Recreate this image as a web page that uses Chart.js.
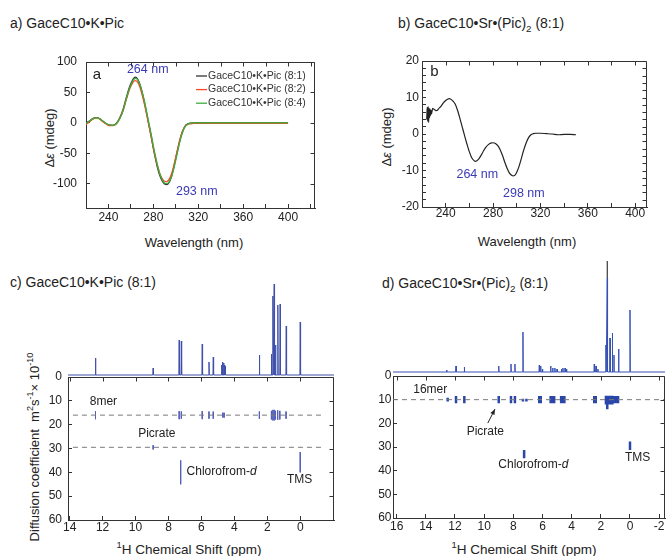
<!DOCTYPE html>
<html>
<head>
<meta charset="utf-8">
<script src="https://cdn.jsdelivr.net/npm/chart.js@4.4.0/dist/chart.umd.min.js"></script>
<style>
body { margin: 0; background: #fff; font-family: Arial, "Liberation Sans", sans-serif; color: #222; }
#wrap { position: relative; width: 666px; height: 556px; overflow: hidden; background: #fff; }
canvas { position: absolute; }
.t { position: absolute; white-space: nowrap; font-size: 14px; line-height: 16px; }
.ax { position: absolute; white-space: nowrap; font-size: 13px; line-height: 15px; transform: translate(-50%, -50%); }
.rot { transform: translate(-50%, -50%) rotate(-90deg); }
sup, sub { font-size: 70%; line-height: 0; }
</style>
</head>
<body>
<div id="wrap">
  <div class="t" style="left:10px;top:15px">a) GaceC10•K•Pic</div>
  <div class="t" style="left:398px;top:15px">b) GaceC10•Sr•(Pic)<sub>2</sub> (8:1)</div>
  <div class="t" style="left:10px;top:274px">c) GaceC10•K•Pic (8:1)</div>
  <div class="t" style="left:382px;top:275px">d) GaceC10•Sr•(Pic)<sub>2</sub> (8:1)</div>

  <div class="ax rot" style="left:49px;top:138px">Δ<i>ε</i> (mdeg)</div>
  <div class="ax" style="left:194px;top:242px">Wavelength (nm)</div>
  <div class="ax rot" style="left:386px;top:137px">Δ<i>ε</i> (mdeg)</div>
  <div class="ax" style="left:527px;top:241px">Wavelength (nm)</div>
  <div class="ax rot" style="left:34px;top:447px">Diffusion coefficient &nbsp;m<sup>2</sup>s<sup>-1</sup>× 10<sup>-10</sup></div>
  <div class="ax" style="left:189px;top:549px;font-size:13.5px"><sup>1</sup>H Chemical Shift (ppm)</div>
  <div class="ax" style="left:524px;top:549px;font-size:13.5px"><sup>1</sup>H Chemical Shift (ppm)</div>
</div>
<script>
// ---- panel a: CD spectra, GaceC10-K-Pic
var wlA = [220,223,226,229,232,235,238,241,244,247,250,253,256,259,262,264,266,268,270,272,
           274,276,278,280,282,284,286,288,290,292,294,296,298,300,302,304,306,308,310,313,
           316,320,330,340,360,380,400];
var cdA81 = [0,3,7,8.7,7,2.5,-1.5,-4,-4.2,-1,8,22,42,60,72,75,72,63,50,34,
             16,-3,-22,-42,-60,-76,-88,-96,-100.5,-101.6,-98,-89,-75,-58,-41,-26,-14,-6,-2.5,-0.5,
             0,0,0,0,0,0,0];
var cdA82 = [-2.5,1.5,6,8,6.5,2,-2,-4.5,-4.5,-1.5,7,20,39,56,67,69.5,67,59,46,31,
             14,-4,-22,-41,-58,-73,-85,-92,-96,-96.5,-93,-85,-72,-56,-40,-25,-14,-6.5,-3,-1.5,
             -1,-1,-1,-1,-1,-1,-1];
var cdA84 = [-1,2.5,6.5,8.5,7,3,-1,-3.5,-4,-1.5,6.5,20,40,58,70,73,71,63,51,36,
             18,0,-18,-38,-56,-72,-85,-94,-99,-100,-97,-90,-77,-61,-44,-28,-16,-7,-3,-0.5,
             0,0,0,0,0,0,0];
var namesA = ['GaceC10•K•Pic (8:1)', 'GaceC10•K•Pic (8:2)', 'GaceC10•K•Pic (8:4)'];
var xTicksA = [240,260,280,300,320,340,360,380,400,420];
var xLabelsA = [240,280,320,360,400];
var yTicksA = [-100,-50,0,50,100];

// ---- panel b: CD spectrum, GaceC10-Sr-(Pic)2
var wlB = [224,224.4,224.8,225.2,225.6,226,226.4,226.8,227.2,227.6,228,229,230,231,232,233,234,
           236,238,240,242,243,244,246,248,250,252,254,256,258,260,262,264,265,266,268,270,
           272,274,276,278,280,282,284,286,288,290,292,294,296,297,298,299,300,302,304,306,
           308,310,312,314,316,318,320,325,330,335,340,345,350];
var cdB = [4,7.3,3.5,7.5,3.2,7,4.5,6.8,5,6.5,5.5,7.0,6.8,6.6,6.4,6.5,6.9,
           7.6,8.5,9.2,9.6,9.7,9.6,9.1,8.2,6.5,4.3,1.9,-0.5,-2.8,-4.9,-6.5,-7.3,-7.5,-7.4,-6.8,-5.8,
           -4.6,-3.6,-2.9,-2.5,-2.4,-2.6,-3.2,-4.3,-5.9,-7.8,-9.5,-10.8,-11.4,-11.5,-11.4,-11.1,-10.5,-8.8,-6.6,-4.3,
           -2.4,-1.0,-0.2,0.1,0.2,0.2,0.2,0.1,0.0,-0.2,-0.1,-0.1,-0.2];
var xTicksB = [240,260,280,300,320,340,360,380,400];
var xLabelsB = [240,280,320,360,400];
var yTicksB = [-20,-18,-16,-14,-12,-10,-8,-6,-4,-2,0,2,4,6,8,10,12,14,16,18,20];
var yLabelsB = [-20,-10,0,10,20];

// ---- panel c: 1H spectrum + DOSY, K picrate
var specC_ppm = [12.43,8.93,7.35,7.22,5.95,5.54,5.28,4.77,4.71,4.65,4.60,4.56,2.48,1.75,1.66,1.58,1.50,1.36,1.22,0.85,0.0];
var specC_int = [17,7,35,34,31,13,18,10,13,12,10,9,20,21,79,91,30,70,71,49,53];
var crossC_ppm = [12.43,7.35,7.22,5.95,5.54,5.28,4.70,4.62,2.48,1.75,1.66,1.58,1.50,1.37,1.24,0.86, 8.93, 7.26, 0.0];
var crossC_lo  = [14.3,14.3,14.5,14.3,14.5,14.5,15.0,15.0,14.5,14.2,13.8,13.8,14.2,14.0,14.2,14.5, 28.6, 35.0, 31.5];
var crossC_hi  = [17.7,17.7,17.5,17.7,17.5,17.5,17.0,17.0,17.5,17.8,18.2,18.2,17.8,18.0,17.8,17.5, 30.4, 45.0, 40.0];
var levelsC = [16, 29.5];           // 8mer, picrate
var xTicksC = [14,12,10,8,6,4,2,0];
var dTicks = [0,10,20,30,40,50,60];

// ---- panel d: 1H spectrum + DOSY, Sr picrate
var specD_ppm = [12.57,11.93,11.36,9.0,8.16,7.89,7.34,6.22,6.12,6.0,5.44,5.3,5.15,5.0,4.7,4.6,4.45,4.35,2.45,2.33,2.2,1.65,1.56,1.37,1.21,1.1,0.78,0.0];
var specD_int = [2,6,5,6,8,8,40,7,6,3,6,4,4,3,3,4,4,3,8,6,3,27,94,34,39,17,23,62];
var specD_top = [1.56, 94, 111];    // clipped top of the 1.56 ppm line
var crossD_ppm = [12.5,11.93,11.36,9.0,8.16,7.89,7.34,7.1,6.22,6.12,5.44,5.32,5.2,4.72,4.6,4.5,2.45,2.35,1.65,1.56,1.47,1.37,1.28,1.21,1.1,0.95,0.82, 7.26, 0.0];
var crossD_lo  = [9.2,8.5,8.5,8.5,8.5,8.5,9.6,9.6,8.5,8.5,8.5,8.5,8.5,8.5,8.5,8.5,8.5,8.5,8.3,8.3,8.3,8.3,8.3,8.3,8.5,8.5,8.5, 31.3, 27.7];
var crossD_hi  = [10.8,11.5,11.5,11.5,11.5,11.5,10.8,10.8,11.5,11.5,11.5,11.5,11.5,11.5,11.5,11.5,11.5,11.5,12,14,12,12,12,12,11.5,11.5,11.5, 34.8, 31.3];
var levelsD = [10];                 // 16mer
var xTicksD = [16,14,12,10,8,6,4,2,0,-2];

var FONT = 'Arial, "Liberation Sans", sans-serif';
var INK = '#222';

function axis(pos, min, max, rev, ticks, labels, pad, size) {
  var horiz = (pos === 'top' || pos === 'bottom');
  return {
    type: 'linear', position: pos, min: min, max: max, reverse: !!rev,
    afterBuildTicks: function (s) { s.ticks = ticks.map(function (v) { return { value: v }; }); },
    afterFit: function (s) {
      if (horiz) s.height = size; else s.width = size;
      // no extra room for overhanging labels, the box is placed by hand
      s.paddingTop = s.paddingBottom = s.paddingLeft = s.paddingRight = 0;
    },
    grid: { display: true, drawOnChartArea: false, drawTicks: true, tickLength: -4, color: '#333' },
    border: { display: true, color: '#333', width: 1 },
    ticks: {
      display: true, padding: pad, color: INK, autoSkip: false, maxRotation: 0,
      font: { family: FONT, size: 12 },
      callback: function (v) { return labels.indexOf(v) >= 0 ? String(v) : ''; }
    }
  };
}

// top and right sides of the box, with inward ticks from the same scales
var frame = {
  id: 'frame',
  afterDraw: function (chart) {
    var ctx = chart.ctx, a = chart.chartArea, sx = chart.scales.x, sy = chart.scales.y;
    var top = Math.round(a.top) + 0.5, right = Math.round(a.right) - 0.5;
    ctx.save();
    ctx.strokeStyle = '#333'; ctx.lineWidth = 1;
    ctx.beginPath();
    ctx.moveTo(a.left, top); ctx.lineTo(right, top); ctx.lineTo(right, a.bottom);
    sx.ticks.forEach(function (t) {
      var x = Math.round(sx.getPixelForValue(t.value)) + 0.5;
      ctx.moveTo(x, top); ctx.lineTo(x, top + 4);
    });
    sy.ticks.forEach(function (t) {
      var y = Math.round(sy.getPixelForValue(t.value)) + 0.5;
      ctx.moveTo(right, y); ctx.lineTo(right - 4, y);
    });
    ctx.stroke();
    ctx.restore();
  }
};

function notes(list) {
  return {
    id: 'notes',
    afterDatasetsDraw: function (chart) {
      var ctx = chart.ctx, sx = chart.scales.x, sy = chart.scales.y;
      ctx.save();
      ctx.textBaseline = 'middle';
      list.forEach(function (n) {
        var px = sx.getPixelForValue(n.x), py = sy.getPixelForValue(n.y);
        if (n.arrow) {
          var qx = sx.getPixelForValue(n.arrow[0]), qy = sy.getPixelForValue(n.arrow[1]);
          var ang = Math.atan2(qy - py, qx - px);
          ctx.strokeStyle = INK; ctx.fillStyle = INK; ctx.lineWidth = 1;
          ctx.beginPath(); ctx.moveTo(px, py); ctx.lineTo(qx, qy); ctx.stroke();
          ctx.beginPath(); ctx.moveTo(qx, qy);
          ctx.lineTo(qx - 6 * Math.cos(ang - 0.4), qy - 6 * Math.sin(ang - 0.4));
          ctx.lineTo(qx - 6 * Math.cos(ang + 0.4), qy - 6 * Math.sin(ang + 0.4));
          ctx.closePath(); ctx.fill();
          return;
        }
        ctx.fillStyle = n.color || INK;
        ctx.font = (n.size || 12) + 'px ' + FONT;
        ctx.textAlign = n.align || 'left';
        ctx.fillText(n.text, px, py);
        if (n.italic) {
          var w = ctx.measureText(n.text).width;
          ctx.font = 'italic ' + (n.size || 12) + 'px ' + FONT;
          ctx.fillText(n.italic, px + w, py);
        }
      });
      ctx.restore();
    }
  };
}

var legendA = {
  id: 'legendA',
  afterDraw: function (chart) {
    var ctx = chart.ctx, a = chart.chartArea;
    ctx.save();
    ctx.font = '10.5px ' + FONT; ctx.textBaseline = 'middle'; ctx.textAlign = 'left';
    chart.data.datasets.forEach(function (d, i) {
      var y = a.top + 14 + i * 13.6;
      ctx.strokeStyle = d.borderColor; ctx.lineWidth = 1.3;
      ctx.beginPath(); ctx.moveTo(a.left + 110, y); ctx.lineTo(a.left + 121, y); ctx.stroke();
      ctx.fillStyle = '#333';
      ctx.fillText(d.label, a.left + 122, y);
    });
    ctx.restore();
  }
};

function xy(xs, ys) { return xs.map(function (x, i) { return { x: x, y: ys[i] }; }); }

function segs(xs, lo, hi) {
  var out = [];
  for (var i = 0; i < xs.length; i++) {
    out.push({ x: xs[i], y: lo[i] }, { x: xs[i], y: hi[i] }, { x: xs[i], y: null });
  }
  return out;
}

function peaks(ppm, h, from, to) {
  var out = [{ x: from, y: 0 }];
  for (var i = 0; i < ppm.length; i++) {
    out.push({ x: ppm[i] + 0.02, y: 0 }, { x: ppm[i], y: h[i] }, { x: ppm[i] - 0.02, y: 0 });
  }
  out.push({ x: to, y: 0 });
  return out;
}

function levels(ds, from, to) {
  return ds.map(function (d) {
    return { data: [{ x: from, y: d }, { x: to, y: d }], borderColor: '#7a7a7a', borderWidth: 1, borderDash: [5, 4] };
  });
}

function mk(left, top, w, h, cfg) {
  var c = document.createElement('canvas');
  c.width = w; c.height = h;
  c.style.left = left + 'px'; c.style.top = top + 'px';
  c.style.width = w + 'px'; c.style.height = h + 'px';
  document.getElementById('wrap').appendChild(c);
  var o = cfg.options;
  o.responsive = false; o.animation = false; o.events = [];
  o.plugins = { legend: { display: false }, tooltip: { enabled: false } };
  o.elements = { point: { radius: 0 }, line: { borderWidth: 1.2, fill: false } };
  cfg.data.datasets.forEach(function (d) { if (d.spanGaps === undefined) d.spanGaps = false; });
  return new Chart(c, cfg);
}

// panel a
mk(30, 50, 300, 190, {
  type: 'line',
  data: { datasets: [
    { label: namesA[0], data: xy(wlA, cdA81), borderColor: '#333', borderWidth: 1.3, cubicInterpolationMode: 'monotone', order: 2 },
    { label: namesA[1], data: xy(wlA, cdA82), borderColor: '#ff4522', borderWidth: 1.3, cubicInterpolationMode: 'monotone', order: 1 },
    { label: namesA[2], data: xy(wlA, cdA84), borderColor: '#3cae3c', borderWidth: 1.3, cubicInterpolationMode: 'monotone', order: 0 }
  ] },
  options: {
    layout: { padding: { top: 12, right: 15, left: 0, bottom: 0 } },
    scales: {
      x: axis('bottom', 220, 424, false, xTicksA, xLabelsA, 6, 32),
      y: axis('left', -140, 100, false, yTicksA, yTicksA, 13, 56)
    }
  },
  plugins: [frame, legendA, notes([
    { text: '264 nm', x: 275, y: 88, color: '#3b3bb5', size: 12.5, align: 'center' },
    { text: '293 nm', x: 318.7, y: -112.6, color: '#3b3bb5', size: 12.5, align: 'center' },
    { text: 'a', x: 226, y: 79, size: 15 }
  ])]
});

// panel b
mk(380, 50, 280, 190, {
  type: 'line',
  data: { datasets: [
    { label: 'GaceC10•Sr•(Pic)2 (8:1)', data: xy(wlB, cdB), borderColor: '#222', borderWidth: 1.2, cubicInterpolationMode: 'monotone' }
  ] },
  options: {
    layout: { padding: { top: 11, right: 13, left: 0, bottom: 0 } },
    scales: {
      x: axis('bottom', 220, 410, false, xTicksB, xLabelsB, 3, 33),
      y: axis('left', -20, 20, false, yTicksB, yLabelsB, 7, 42)
    }
  },
  plugins: [frame, notes([
    { text: 'b', x: 227, y: 17, size: 15 },
    { text: '264 nm', x: 266.7, y: -11.2, color: '#3b3bb5', size: 12.5, align: 'center' },
    { text: '298 nm', x: 306, y: -16.2, color: '#3b3bb5', size: 12.5, align: 'center' }
  ])]
});

// panel c spectrum
mk(68, 270, 266, 107, {
  type: 'line',
  data: { datasets: [
    { data: peaks(specC_ppm, specC_int, 14.1, -2.05), borderColor: '#3f50aa', borderWidth: 1 }
  ] },
  options: {
    layout: { padding: { top: 5, right: 0, left: 0, bottom: 0 } },
    scales: {
      x: { type: 'linear', display: false, min: -2.05, max: 14.1, reverse: true },
      y: { type: 'linear', display: false, min: -2, max: 100 }
    }
  }
});

// panel c DOSY
mk(20, 368, 320, 188, {
  type: 'line',
  data: { datasets: levels(levelsC, 13.8, -1.4).concat([
    { data: segs(crossC_ppm, crossC_lo, crossC_hi), borderColor: '#5560b8', borderWidth: 1 }
  ]) },
  options: {
    layout: { padding: { top: 9, right: 6, left: 0, bottom: 0 } },
    scales: {
      x: axis('bottom', -2.05, 14.1, true, xTicksC, xTicksC, 4, 36),
      y: axis('left', 0, 60, true, dTicks, dTicks, 10, 48)
    }
  },
  plugins: [frame, notes([
    { text: '8mer', x: 12.78, y: 10.4 },
    { text: 'Picrate', x: 9.84, y: 23.6 },
    { text: 'Chlorofrom-', italic: 'd', x: 6.9, y: 39.7 },
    { text: 'TMS', x: 0.81, y: 43.2 }
  ])]
});

// panel d spectrum
mk(393, 255, 272, 119, {
  type: 'line',
  data: { datasets: [
    { data: peaks(specD_ppm, specD_int, 16.25, -2.4), borderColor: '#3650b2', borderWidth: 1 },
    { data: [{ x: specD_top[0], y: specD_top[1] }, { x: specD_top[0], y: specD_top[2] }], borderColor: '#111', borderWidth: 1 }
  ] },
  options: {
    layout: { padding: { top: 6, right: 0, left: 0, bottom: 0 } },
    scales: {
      x: { type: 'linear', display: false, min: -2.4, max: 16.25, reverse: true },
      y: { type: 'linear', display: false, min: -2, max: 111 }
    }
  }
});

// panel d DOSY
mk(345, 367, 321, 189, {
  type: 'line',
  data: { datasets: levels(levelsD, 16.25, -2.4).concat([
    { data: segs(crossD_ppm, crossD_lo, crossD_hi), borderColor: '#2a46a8', borderWidth: 2.5 }
  ]) },
  options: {
    layout: { padding: { top: 9, right: 1, left: 0, bottom: 0 } },
    scales: {
      x: axis('bottom', -2.4, 16.25, true, xTicksD, xTicksD, 5, 38),
      y: axis('left', 0, 60, true, dTicks, dTicks, 5.5, 48)
    }
  },
  plugins: [frame, notes([
    { text: '16mer', x: 14.86, y: 5.9 },
    { text: 'Picrate', x: 11.2, y: 23.5 },
    { x: 9.75, y: 19.9, arrow: [9.26, 14] },
    { text: 'Chlorofrom-', italic: 'd', x: 9.03, y: 37.3 },
    { text: 'TMS', x: 0.34, y: 34.4 }
  ])]
});
</script>
</body>
</html>
